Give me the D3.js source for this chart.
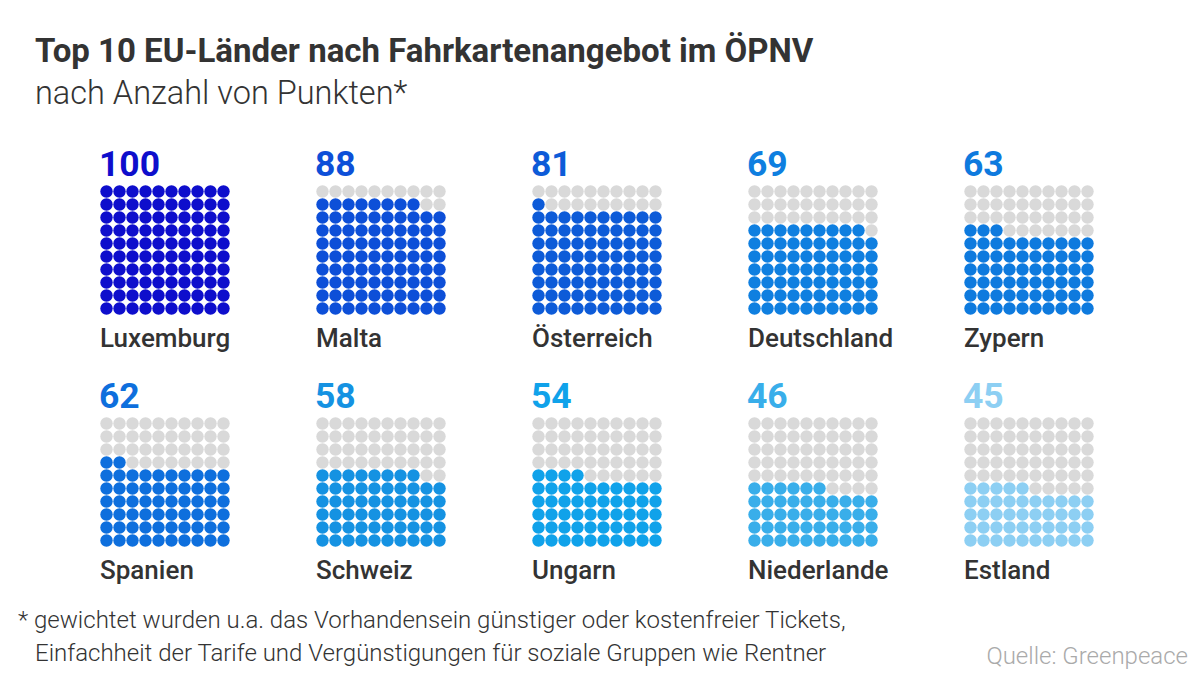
<!DOCTYPE html>
<html><head><meta charset="utf-8">
<script src="https://cdn.jsdelivr.net/npm/d3@7"></script>
<style>
body{margin:0;background:#fff;}
svg{display:block;font-family:Roboto,"Noto Sans",sans-serif;}
</style></head>
<body><svg id="c" width="1200" height="675"></svg>
<script>
const countries = ["Luxemburg","Malta","Österreich","Deutschland","Zypern","Spanien","Schweiz","Ungarn","Niederlande","Estland"];
const points = [100,88,81,69,63,62,58,54,46,45];
const colors = ["#0e0ecc","#0d4fd8","#0d5bd8","#0f7fe0","#0e7ade","#0e6fdd","#1592e2","#10a2ea","#39aeea","#8dcff3"];
const emptyColor = "#d9d9d9";

const svg = d3.select("#c");

svg.append("text").attr("x",35).attr("y",62)
  .attr("font-size",33).attr("font-weight",700).attr("fill","#333")
  .text("Top 10 EU-Länder nach Fahrkartenangebot im ÖPNV");
svg.append("text").attr("x",35).attr("y",104)
  .attr("font-size",32.5).attr("font-weight",300).attr("fill","#333")
  .text("nach Anzahl von Punkten*");

// layout scales
const colX = d3.scalePoint().domain(d3.range(5)).range([100,964]);
const rowY = d3.scalePoint().domain(d3.range(2)).range([185,417]);
const cell = d3.scaleBand().domain(d3.range(10)).range([0,130]);

const data = countries.map((c,i)=>({name:c,value:points[i],color:colors[i],col:i%5,row:Math.floor(i/5)}));

const g = svg.selectAll("g.panel").data(data).join("g")
  .attr("class","panel")
  .attr("transform",d=>`translate(${colX(d.col)},${rowY(d.row)})`);

g.append("text").attr("x",-1).attr("y",-9)
  .attr("font-size",35.5).attr("font-weight",700).attr("fill",d=>d.color)
  .text(d=>d.value);

g.append("text").attr("x",0).attr("y",162)
  .attr("font-size",26).attr("font-weight",500).attr("fill","#333")
  .text(d=>d.name);

g.each(function(d){
  const dots = d3.range(100).map(k=>{
    // fill from bottom row upward, left to right
    const rFromBottom = Math.floor(k/10), c = k%10;
    return {r:9-rFromBottom, c, filled: k < d.value};
  });
  d3.select(this).selectAll("circle").data(dots).join("circle")
    .attr("cx",p=>cell(p.c)+cell.bandwidth()/2)
    .attr("cy",p=>cell(p.r)+cell.bandwidth()/2)
    .attr("r",6.2)
    .attr("fill",p=>p.filled?d.color:emptyColor);
});

svg.append("text").attr("x",18).attr("y",628)
  .attr("font-size",24).attr("font-weight",300).attr("fill","#333")
  .text("* gewichtet wurden u.a. das Vorhandensein günstiger oder kostenfreier Tickets,");
svg.append("text").attr("x",35).attr("y",661)
  .attr("font-size",24).attr("font-weight",300).attr("fill","#333")
  .text("Einfachheit der Tarife und Vergünstigungen für soziale Gruppen wie Rentner");
svg.append("text").attr("x",1188).attr("y",664).attr("text-anchor","end")
  .attr("font-size",24).attr("font-weight",300).attr("fill","#aaa")
  .text("Quelle: Greenpeace");
</script></body></html>
